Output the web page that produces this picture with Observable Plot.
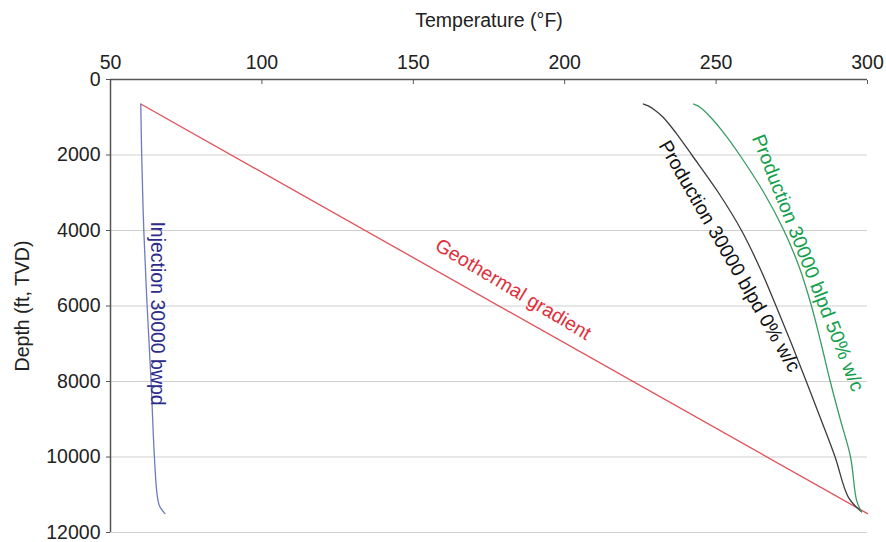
<!DOCTYPE html>
<html>
<head>
<meta charset="utf-8">
<script src="https://cdn.jsdelivr.net/npm/d3@7"></script>
<script src="https://cdn.jsdelivr.net/npm/@observablehq/plot@0.6"></script>
<style>
  body { margin: 0; background: #fff; }
  #chart svg { display: block; }
</style>
</head>
<body>
<div id="chart"></div>
<script>
// Temperature profiles along the wellbore (°F versus true vertical depth, ft)
const tempTicks = [50, 100, 150, 200, 250, 300];
const depthTicks = [0, 2000, 4000, 6000, 8000, 10000, 12000];

const geothermalTemp  = [60, 300];
const geothermalDepth = [650, 11500];

const injectionTemp  = [60, 60.3, 61, 62.1, 63.4, 64.5, 65.4, 66.2, 68];
const injectionDepth = [650, 2000, 4000, 6000, 8000, 10000, 11000, 11300, 11500];

const prod0Temp  = [226, 227.6, 229.6, 232.5, 236.6, 242, 250.8, 258.4, 264.5, 269.8, 274.9, 279.8, 284.6, 289.3, 293.7, 298];
const prod0Depth = [650, 700, 800, 1000, 1400, 2000, 3000, 4000, 5000, 6000, 7000, 8000, 9000, 10000, 11070, 11450];

const prod50Temp  = [242.6, 244, 245.7, 248.2, 252.4, 257.8, 265.8, 272.4, 277.6, 281.5, 284.7, 287.7, 291, 294.4, 296.4, 298];
const prod50Depth = [650, 700, 800, 1000, 1400, 2000, 3000, 4000, 5000, 6000, 7000, 8000, 9000, 10000, 11150, 11450];

const seriesLabels = [
  "Geothermal gradient",
  "Injection 30000 bwpd",
  "Production 30000 blpd 0% w/c",
  "Production 30000 blpd 50% w/c"
];

const toPoints = (temps, depths) => temps.map((t, i) => ({t, d: depths[i]}));

const geothermal = toPoints(geothermalTemp, geothermalDepth);
const injection  = toPoints(injectionTemp, injectionDepth);
const prod0      = toPoints(prod0Temp, prod0Depth);
const prod50     = toPoints(prod50Temp, prod50Depth);

const font = "Liberation Sans, Arial, Helvetica, sans-serif";
const size = 19.5;

const chart = Plot.plot({
  width: 886,
  height: 542,
  marginLeft: 110,
  marginRight: 19,
  marginTop: 79,
  marginBottom: 10,
  style: {fontFamily: font, fontSize: `${size}px`, color: "#222", background: "#fff"},
  x: {domain: [50, 300]},
  y: {domain: [0, 12000], reverse: true},
  marks: [
    Plot.gridY(depthTicks.slice(1), {stroke: "#cfcfcf", strokeOpacity: 1, strokeWidth: 1.2}),
    Plot.axisX({
      anchor: "top", ticks: tempTicks, tickSize: -4, tickPadding: 15,
      label: "Temperature (°F)", labelAnchor: "center", labelArrow: "none", labelOffset: 66,
      stroke: "#555", fontSize: size
    }),
    Plot.axisY({
      anchor: "left", ticks: depthTicks, tickFormat: d => String(d), tickSize: 4, tickPadding: 6,
      label: "Depth (ft, TVD)", labelAnchor: "center", labelArrow: "none", labelOffset: 95,
      stroke: "#555", fontSize: size
    }),
    Plot.ruleY([0], {stroke: "#555", strokeWidth: 1.5}),
    Plot.ruleX([50], {y1: 0, y2: 12000, stroke: "#555", strokeWidth: 1.5}),

    Plot.line(geothermal, {x: "t", y: "d", stroke: "#e05058", strokeWidth: 1.3}),
    Plot.line(injection, {x: "t", y: "d", stroke: "#6c7cc0", strokeWidth: 1.3, curve: "catmull-rom"}),
    Plot.line(prod0, {x: "t", y: "d", stroke: "#3c3c3c", strokeWidth: 1.3, curve: "catmull-rom"}),
    Plot.line(prod50, {x: "t", y: "d", stroke: "#3a9c66", strokeWidth: 1.3, curve: "catmull-rom"}),

    Plot.text([seriesLabels[0]], {x: () => 183, y: () => 5560, text: d => d, rotate: 31, fill: "#e0303c", fontSize: size}),
    Plot.text([seriesLabels[1]], {x: () => 65.6, y: () => 6200, text: d => d, rotate: 90, fill: "#2c2c8c", fontSize: size}),
    Plot.text([seriesLabels[2]], {x: () => 254.4, y: () => 4680, text: d => d, rotate: 60, fill: "#111", fontSize: size}),
    Plot.text([seriesLabels[3]], {x: () => 280.3, y: () => 4860, text: d => d, rotate: 68.5, fill: "#12a04c", fontSize: size})
  ]
});

document.getElementById("chart").appendChild(chart);
</script>
</body>
</html>
